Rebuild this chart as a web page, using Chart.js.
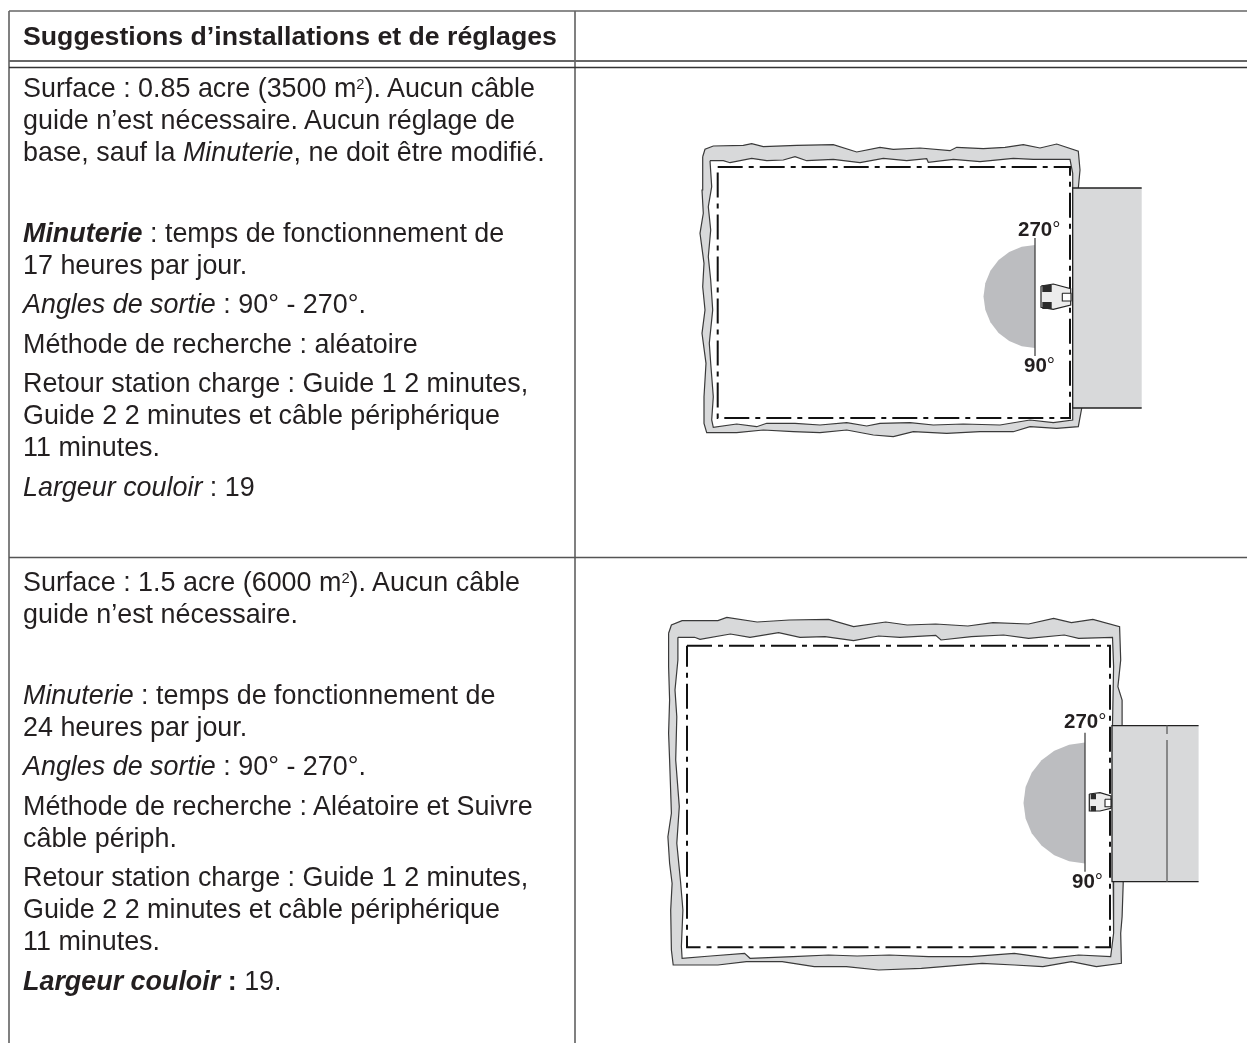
<!DOCTYPE html>
<html lang="fr">
<head>
<meta charset="UTF-8">
<title>Suggestions d'installations et de réglages</title>
<script src="https://cdn.jsdelivr.net/npm/chart.js@4.4.0/dist/chart.umd.min.js"></script>
<style>
    html, body { margin: 0; padding: 0; background: #fff; overflow: hidden; }
    #page { position: relative; width: 1247px; height: 1043px; }
    #myChart { position: absolute; left: 0; top: 0; }
    .txt { position: absolute; white-space: nowrap; line-height: 1; color: #231f20; font-family: "Liberation Sans", Arial, sans-serif; }
    .txt sup { font-size: 55%; line-height: 0; vertical-align: 0.55em; }
    .deg { font-weight: normal; }
</style>
</head>
<body>
<div id="page"><canvas id="myChart" width="1247" height="1043"></canvas></div>
<script>
    const headerText = ['<b>Suggestions d’installations et de réglages</b>'];
    const headerBaseline = [46];

    const bodyLines = [
        'Surface : 0.85 acre (3500 m<sup>2</sup>). Aucun câble',
        'guide n’est nécessaire. Aucun réglage de',
        'base, sauf la <i>Minuterie</i>, ne doit être modifié.',
        '<b><i>Minuterie</i></b> : temps de fonctionnement de',
        '17 heures par jour.',
        '<i>Angles de sortie</i> : 90° - 270°.',
        'Méthode de recherche : aléatoire',
        'Retour station charge : Guide 1 2 minutes,',
        'Guide 2 2 minutes et câble périphérique',
        '11 minutes.',
        '<i>Largeur couloir</i> : 19',
        'Surface : 1.5 acre (6000 m<sup>2</sup>). Aucun câble',
        'guide n’est nécessaire.',
        '<i>Minuterie</i> : temps de fonctionnement de',
        '24 heures par jour.',
        '<i>Angles de sortie</i> : 90° - 270°.',
        'Méthode de recherche : Aléatoire et Suivre',
        'câble périph.',
        'Retour station charge : Guide 1 2 minutes,',
        'Guide 2 2 minutes et câble périphérique',
        '11 minutes.',
        '<b><i>Largeur couloir</i> :</b> 19.'
    ];
    const bodyBaselines = [97.5, 129.5, 161.5, 242.5, 274.5, 314, 353.5, 393, 425, 457, 496.5, 592, 623.5, 704.5, 736.5, 776, 815.5, 847.5, 887, 919, 951, 990.5];

    const angleLabels = ['<b>270</b><span class="deg">°</span>', '<b>90</b><span class="deg">°</span>', '<b>270</b><span class="deg">°</span>', '<b>90</b><span class="deg">°</span>'];
    const angleX = [1018, 1024, 1064, 1072];
    const angleBaselines = [236, 372, 728, 888];

    const tableVertical = [[[9, 11], [9, 1043]], [[575, 11], [575, 1043]]];
    const tableHorizontal = [
        [[9, 11], [1247, 11]],
        [[9, 61], [1247, 61]],
        [[9, 67.5], [1247, 67.5]],
        [[9, 557.5], [1247, 557.5]]
    ];
    const tableHorizontalWidths = [1.5, 2, 1.3, 1.5];
    const tableHorizontalColors = ['#666666', '#666666', '#333333', '#555555'];

    const lawn1Outer = [[702.7,156.7],[705,149.3],[713.3,146],[743.3,145.3],[751.7,143.7],[763.3,146.7],[796.7,145.3],[833.3,144.7],[856.7,152],[880,147.3],[893.3,149.3],[920,148],[950,150.7],[956.7,147.3],[983.3,148.7],[1005,147.3],[1023.3,144.7],[1040,148],[1056.7,144],[1078.3,151.3],[1080,170],[1078.3,188.3],[1081.7,408.3],[1078.3,426.7],[1056.7,428.3],[1030,426.7],[1013.3,431.7],[980,431.7],[946.7,433.3],[913.3,431.7],[893.3,436.7],[873.3,435],[846.7,430],[820,432.7],[793.3,431.7],[763.3,430],[736.7,432.7],[706.7,432.7],[704,423.3],[704,396.7],[706,363.3],[702,333.3],[705,310],[702.7,286.7],[704,263.3],[700,233.3],[703.3,213.3],[702,190],[702.7,156.7]];
    const lawn1Inner = [[710,160.7],[723.3,160.7],[730,162.7],[751.7,158.3],[766.7,160.7],[783.3,160],[795,156.7],[806.7,160.7],[833.3,159.3],[860,162.7],[883.3,158.3],[906.7,160.7],[926.7,158.7],[928.3,162.3],[953.3,159.3],[980,161.7],[1013.3,158.3],[1033.3,159.3],[1070,159.3],[1072.7,173.3],[1072.7,420],[1053.3,422.7],[1030,420],[1000,425],[963.3,424],[933.3,425],[910,422.7],[880,423.3],[866.7,426],[846.7,422.7],[820,425],[795,423.3],[766.7,423.3],[756.7,426.7],[736.7,424],[713.3,427.3],[711.7,420],[713.3,396.7],[710.7,363.3],[709.3,343.3],[712.7,310],[710.7,280],[708.3,256.7],[710.7,230],[708.3,206.7],[711.7,186.7],[710,160.7]];
    const lawn1Wire = [[717.7,167],[1070,167],[1070,418],[717.7,418],[717.7,167]];
    const lawn1Slab = [[1072.7,188],[1141.7,188],[1141.7,408],[1072.7,408],[1072.7,188]];
    const lawn1SlabEdge = [[1141.7,188],[1072.7,188],[1072.7,408],[1141.7,408]];
    const lawn1Sector = [[1035,245],[1021.7,246.8],[1009.2,251.9],[998.6,260.1],[990.4,270.7],[985.3,283.2],[983.5,296.5],[985.3,309.8],[990.4,322.3],[998.6,332.9],[1009.2,341.1],[1021.7,346.2],[1035,348],[1035,245]];
    const lawn1Stem = [[1035,238],[1035,356]];
    const lawn1Robot = [[1041,286],[1053.3,284],[1070.7,288.7],[1070.7,305],[1053.3,309.3],[1041,307.3],[1041,286]];
    const lawn1WheelA = [[1042.3,285],[1051.7,285],[1051.7,292],[1042.3,292],[1042.3,285]];
    const lawn1WheelB = [[1042.3,302],[1051.7,302],[1051.7,309],[1042.3,309],[1042.3,302]];
    const lawn1Box = [[1062.3,293.3],[1071,293.3],[1071,301],[1062.3,301],[1062.3,293.3]];

    const lawn2Outer = [[668.6,633.3],[671.4,625],[682.1,620.6],[717.9,620.6],[726.8,617.4],[757.1,622],[789.3,620],[828.6,619.3],[853.6,626.7],[885.7,622],[907.1,625],[935.7,624],[967.9,626],[992.9,622.7],[1028.6,624],[1053.6,618.3],[1071.4,622.7],[1092.9,619.3],[1119.6,626.7],[1120.7,660],[1117.9,686.7],[1122.1,700],[1122.1,725.6],[1123.2,883.4],[1122.1,916.7],[1120.7,933.3],[1121.4,963.3],[1096.4,966.7],[1071.4,961.7],[1042.9,966.7],[1014.3,965],[982.1,963.3],[921.4,968.3],[878.6,970],[846.4,966.7],[814.3,966.7],[782.1,961.7],[746.4,961.7],[717.9,965],[673.2,965],[671.4,950],[670.7,910],[672.1,883.4],[669.6,863.3],[667.9,836.7],[671.4,813.3],[669.6,760],[668.6,733.3],[669.6,700],[668.6,666.6],[668.6,633.3]];
    const lawn2Inner = [[677.9,637.3],[694.6,637.3],[700,639.3],[730.4,634],[750,637.3],[778.6,632.7],[800,637.3],[825,636.7],[853.6,640.7],[878.6,636],[900,637.3],[935.7,635.4],[941,640],[971.4,636.7],[1003.6,635],[1028.6,638.4],[1064.3,635],[1078.6,638.4],[1112.5,637.3],[1113.6,666.6],[1112.5,725.6],[1113.2,881.7],[1113.6,933.3],[1110.7,956.6],[1078.6,955],[1050,958.3],[1014.3,953.4],[971.4,956.6],[928.6,956.6],[889.3,955],[857.1,956],[828.6,955],[792.9,956.6],[750,958.3],[744.6,953.4],[710.7,956],[682.1,958.3],[681.4,946.6],[682.9,910],[680.4,880],[676.8,843.3],[679.3,806.6],[675.7,760],[676.8,716.7],[675,690],[677.9,660],[677.9,637.3]];
    const lawn2Wire = [[687,645.7],[1110,645.7],[1110,947.2],[687,947.2],[687,645.7]];
    const lawn2Slab = [[1112,725.6],[1198.6,725.6],[1198.6,881.7],[1112,881.7],[1112,725.6]];
    const lawn2SlabEdge = [[1198.6,725.6],[1112,725.6],[1112,881.7],[1198.6,881.7]];
    const lawn2JointTop = [[1167,725.6],[1167,734]];
    const lawn2Joint = [[1167,740],[1167,881.7]];
    const lawn2Sector = [[1085,742.6],[1069.1,744.7],[1054.3,750.7],[1041.5,760.3],[1031.7,772.7],[1025.6,786.9],[1023.5,803],[1025.6,818.6],[1031.7,833.3],[1041.5,845.6],[1054.3,855.2],[1069.1,861.3],[1085,863.4],[1085,742.6]];
    const lawn2Stem = [[1085,732.7],[1085,871.7]];
    const lawn2Robot = [[1089.3,794],[1100,792.7],[1111,796],[1111,808.3],[1100,811],[1089.3,811],[1089.3,794]];
    const lawn2WheelA = [[1090.7,794],[1096,794],[1096,799.3],[1090.7,799.3],[1090.7,794]];
    const lawn2WheelB = [[1090.7,806],[1096,806],[1096,811.3],[1090.7,811.3],[1090.7,806]];
    const lawn2Box = [[1105,799.3],[1111,799.3],[1111,806.7],[1105,806.7],[1105,799.3]];

    const ctx = document.getElementById('myChart').getContext('2d');
    const wireDash = [25, 6, 5, 6];

    function pts(list) {
        return list.map(p => ({x: p[0], y: p[1]}));
    }

    function line(list, color, width, dash) {
        return {
            data: pts(list),
            showLine: true,
            fill: false,
            borderColor: color,
            borderWidth: width,
            borderDash: dash || [],
            pointRadius: 0,
            tension: 0,
            clip: false
        };
    }

    function shape(list, fillColor, edgeColor, width) {
        const ds = line(list, edgeColor || 'transparent', width || 0);
        ds.fill = 'shape';
        ds.backgroundColor = fillColor;
        return ds;
    }

    function lawnLayers(outer, inner, wire, slab, slabEdge, sector, stem, robot, wheelA, wheelB, box) {
        return [
            shape(outer, '#d8d9da', '#3a3a3a', 1.2),
            shape(inner, '#ffffff', '#3a3a3a', 1.2),
            line(wire, '#111111', 2, wireDash),
            shape(sector, '#bcbdc0'),
            line(stem, '#444444', 1.3),
            shape(robot, '#ececec', '#222222', 1.2),
            shape(wheelA, '#2b2b2b'),
            shape(wheelB, '#2b2b2b'),
            shape(box, '#ffffff', '#222222', 1.1),
            shape(slab, '#d8d9da'),
            line(slabEdge, '#222222', 1.3)
        ];
    }

    const layers = [
        ...tableVertical.map(l => line(l, '#808080', 2)),
        ...tableHorizontal.map((l, i) => line(l, tableHorizontalColors[i], tableHorizontalWidths[i])),
        ...lawnLayers(lawn1Outer, lawn1Inner, lawn1Wire, lawn1Slab, lawn1SlabEdge, lawn1Sector, lawn1Stem, lawn1Robot, lawn1WheelA, lawn1WheelB, lawn1Box),
        ...lawnLayers(lawn2Outer, lawn2Inner, lawn2Wire, lawn2Slab, lawn2SlabEdge, lawn2Sector, lawn2Stem, lawn2Robot, lawn2WheelA, lawn2WheelB, lawn2Box),
        line(lawn2JointTop, '#666666', 1.4),
        line(lawn2Joint, '#666666', 1.4)
    ];

    // first dataset is painted last, so the list goes bottom to top and gets flipped here
    const myChart = new Chart(ctx, {
        type: 'scatter',
        data: {datasets: layers.reverse()},
        options: {
            responsive: false,
            animation: false,
            layout: {padding: 0},
            events: [],
            scales: {
                x: {type: 'linear', min: 0, max: 1247, display: false},
                y: {type: 'linear', min: 0, max: 1043, reverse: true, display: false}
            },
            plugins: {legend: {display: false}, tooltip: {enabled: false}}
        }
    });

    const page = document.getElementById('page');

    function addText(html, xVal, yVal, size) {
        const el = document.createElement('div');
        el.className = 'txt';
        el.innerHTML = html;
        el.style.fontSize = size + 'px';
        el.style.left = myChart.scales.x.getPixelForValue(xVal) + 'px';
        // line-height 1 puts the Liberation baseline about 0.85em under the top
        el.style.top = (myChart.scales.y.getPixelForValue(yVal) - 0.85 * size) + 'px';
        page.appendChild(el);
    }

    const textLeft = 23;
    addText(headerText[0], textLeft, headerBaseline[0], 26.7);
    bodyLines.forEach((t, i) => addText(t, textLeft, bodyBaselines[i], 26.9));
    angleLabels.forEach((t, i) => addText(t, angleX[i], angleBaselines[i], 20.5));
</script>
</body>
</html>
